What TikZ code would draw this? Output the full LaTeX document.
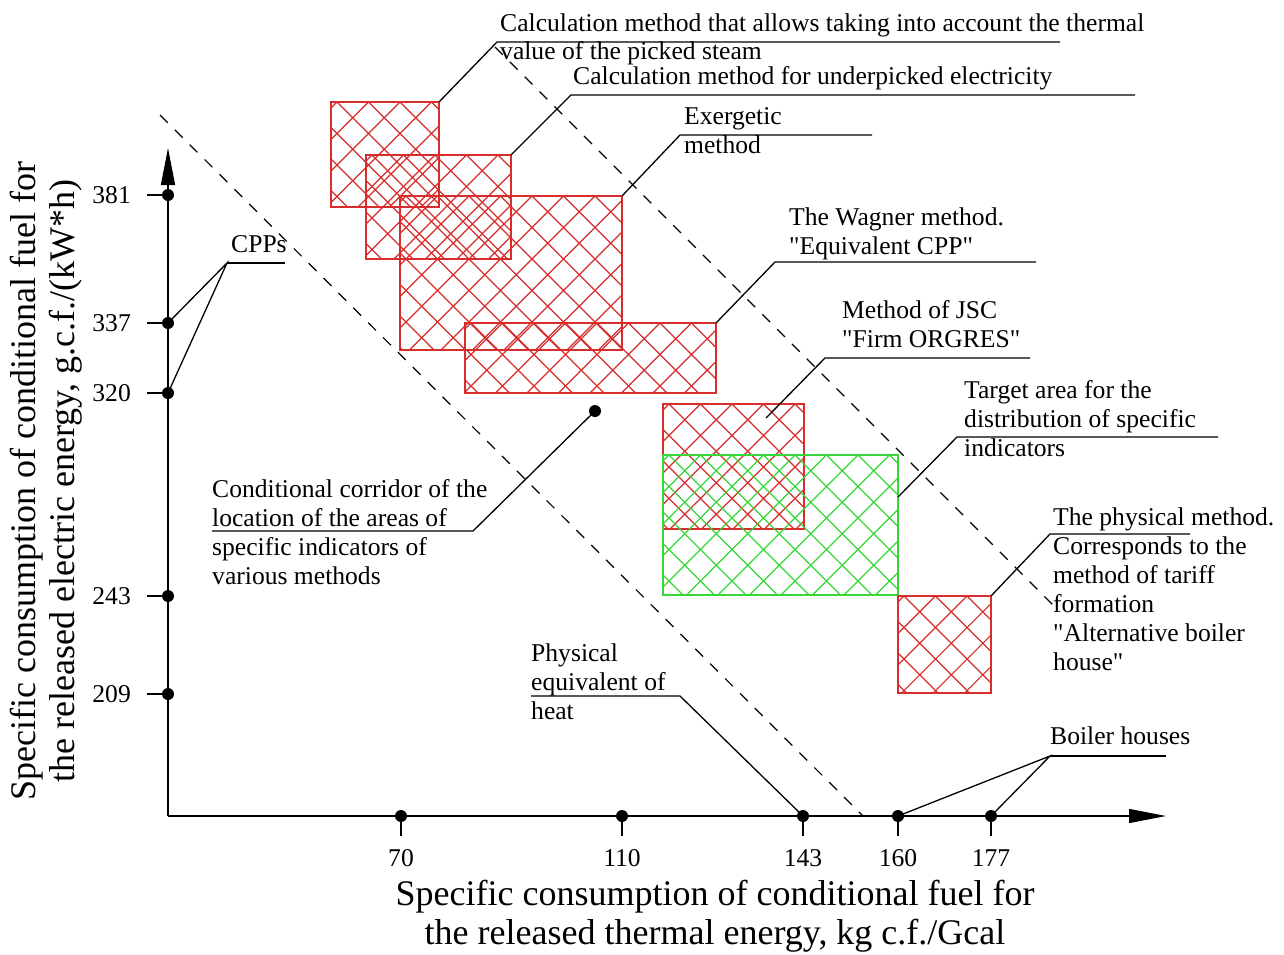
\documentclass[tikz,border=0pt]{standalone}
\usepackage{fontspec}
\setmainfont{Liberation Serif}[Ligatures=TeXOff]
\usetikzlibrary{arrows.meta}
\definecolor{hred}{RGB}{215,45,45}
\definecolor{hgreen}{RGB}{55,215,55}
\newcommand\lblfont{\fontsize{25.6}{29}\selectfont}
\newcommand\tightfont{\fontsize{25.6}{28}\selectfont}
\newcommand\ttlfont{\fontsize{36}{39}\selectfont}
\newcommand\fs{\rule{0pt}{20pt}}
\newcommand\ts{\rule{0pt}{29pt}}
\newcommand\hatchbox[5]{%
  \begin{scope}
    \clip (#2,#3) rectangle (#4,#5);
    \foreach \k in {-7,...,14}{
      \draw[#1, hatch] ({#2+6+\k*31.5},#3) -- ++(200,200);
      \draw[#1, hatch] ({#2+6+\k*31.5},#3) -- ++(-200,200);
    }
  \end{scope}
  \draw[#1, boxline] (#2,#3) rectangle (#4,#5);}
\tikzset{
  hatch/.style={line width=1.1pt},
  boxline/.style={line width=1.4pt},
  axis/.style={line width=1.4pt, black},
  lead/.style={line width=1.3pt, black},
  corr/.style={line width=1.2pt, black, dash pattern=on 11pt off 10pt},
  dot/.style={circle, fill=black, inner sep=0pt, minimum size=12pt},
  lbl/.style={anchor=north west, inner sep=0pt, align=left, font=\lblfont},
  lbl1/.style={anchor=base west, inner sep=0pt, font=\lblfont},
  ytl/.style={anchor=base east, inner sep=0pt, font=\lblfont},
  xtl/.style={anchor=base, inner sep=0pt, font=\lblfont},
  ttl/.style={anchor=north, inner sep=0pt, align=center, font=\ttlfont},
}
\begin{document}
\begin{tikzpicture}[x=1pt, y=-1pt]
\fill[white] (0,0) rectangle (1284,954);
\useasboundingbox (0,0) rectangle (1284,954);

% corridor dashed lines
\coordinate (c1a) at (160,115);
\coordinate (c1b) at (863,816);
\coordinate (c2a) at (495,47);
\coordinate (c2b) at (1056,608);
\draw[corr] (c1a) -- (c1b);
\draw[corr] (c2a) -- (c2b);

% hatched areas
\hatchbox{hred}{331}{102}{439}{207}
\hatchbox{hred}{366}{155}{511}{259}
\hatchbox{hred}{400}{196}{622}{350}
\hatchbox{hred}{465}{323}{716}{393}
\hatchbox{hred}{663}{404}{804}{529}
\hatchbox{hgreen}{663}{455}{898}{595}
\hatchbox{hred}{898}{596}{991}{693}

% axes
\coordinate (o) at (168,816);
\coordinate (ytip) at (168,148);
\coordinate (xtip) at (1166,816);
\draw[axis, -{Triangle[length=37pt,width=14pt]}] (o) -- (ytip);
\draw[axis, -{Triangle[length=37pt,width=14pt]}] (o) -- (xtip);

% y ticks
\foreach \v/\py in {381/195, 337/323, 320/393, 243/596, 209/694}{
  \node[dot] (y\v) at (168,\py) {};
  \draw[axis] (y\v.center) -- ++(-21,0);
  \node[ytl] (ty\v) at (131,\py+8) {\v};
}
% x ticks
\foreach \v/\px in {70/401, 110/622, 143/803, 160/898, 177/991}{
  \node[dot] (x\v) at (\px,816) {};
  \draw[axis] (x\v.center) -- ++(0,20);
  \node[xtl] (tx\v) at (\px,866) {\v};
}

% axis titles
\node[ttl] (xt) at (715,876) {\ts Specific consumption of conditional fuel for\\the released thermal energy, kg c.f./Gcal};
\node[ttl, rotate=90] (yt) at (6,481) {\ts Specific consumption of conditional fuel for\\the released electric energy, g.c.f./(kW*h)};

% labels
\node[lbl, font=\tightfont] (l1) at (500,11) {\fs Calculation method that allows taking into account the thermal\\value of the picked steam};
\node[lbl1] (l2) at (573,84) {Calculation method for underpicked electricity};
\node[lbl] (l3) at (684,104) {\fs Exergetic\\method};
\node[lbl] (l4) at (789,205) {\fs The Wagner method.\\"Equivalent CPP"};
\node[lbl] (l5) at (842,298) {\fs Method of JSC\\"Firm ORGRES"};
\node[lbl] (l6) at (964,378) {\fs Target area for the\\distribution of specific\\indicators};
\node[lbl] (l7) at (1053,505) {\fs The physical method.\\Corresponds to the\\method of tariff\\formation\\"Alternative boiler\\house"};
\node[lbl1] (l8) at (231,252) {CPPs};
\node[lbl] (l9) at (212,477) {\fs Conditional corridor of the\\location of the areas of\\specific indicators of\\various methods};
\node[lbl] (l10) at (531,641) {\fs Physical\\equivalent of\\heat};
\node[lbl1] (l11) at (1050,744) {Boiler houses};

% leaders
\coordinate (a1) at (439,102); \coordinate (k1) at (497,42); \coordinate (e1) at (1060,42);
\draw[lead] (a1) -- (k1) -- (e1);
\coordinate (a2) at (511,155); \coordinate (k2) at (571,95); \coordinate (e2) at (1135,95);
\draw[lead] (a2) -- (k2) -- (e2);
\coordinate (a3) at (622,196); \coordinate (k3) at (680,135); \coordinate (e3) at (872,135);
\draw[lead] (a3) -- (k3) -- (e3);
\coordinate (a4) at (716,323); \coordinate (k4) at (775,262); \coordinate (e4) at (1036,262);
\draw[lead] (a4) -- (k4) -- (e4);
\coordinate (a5) at (766,418); \coordinate (k5) at (825,358); \coordinate (e5) at (1030,358);
\draw[lead] (a5) -- (k5) -- (e5);
\coordinate (a6) at (898,497); \coordinate (k6) at (957,437); \coordinate (e6) at (1218,437);
\draw[lead] (a6) -- (k6) -- (e6);
\coordinate (a7) at (991,596); \coordinate (k7) at (1050,534); \coordinate (e7) at (1190,534);
\draw[lead] (a7) -- (k7) -- (e7);
\coordinate (k8) at (227,263); \coordinate (e8) at (285,263);
\draw[lead] (y337.center) -- (k8) -- (y320.center);
\draw[lead] (k8) -- (e8);
\node[dot] (cd) at (595,411) {};
\coordinate (k9) at (473,531); \coordinate (e9) at (212,531);
\draw[lead] (cd.center) -- (k9) -- (e9);
\coordinate (k10) at (680,696); \coordinate (e10) at (531,696);
\draw[lead] (x143.center) -- (k10) -- (e10);
\coordinate (k11) at (1050,756); \coordinate (e11) at (1166,756);
\draw[lead] (x160.center) -- (k11) -- (x177.center);
\draw[lead] (k11) -- (e11);
\end{tikzpicture}
\end{document}
